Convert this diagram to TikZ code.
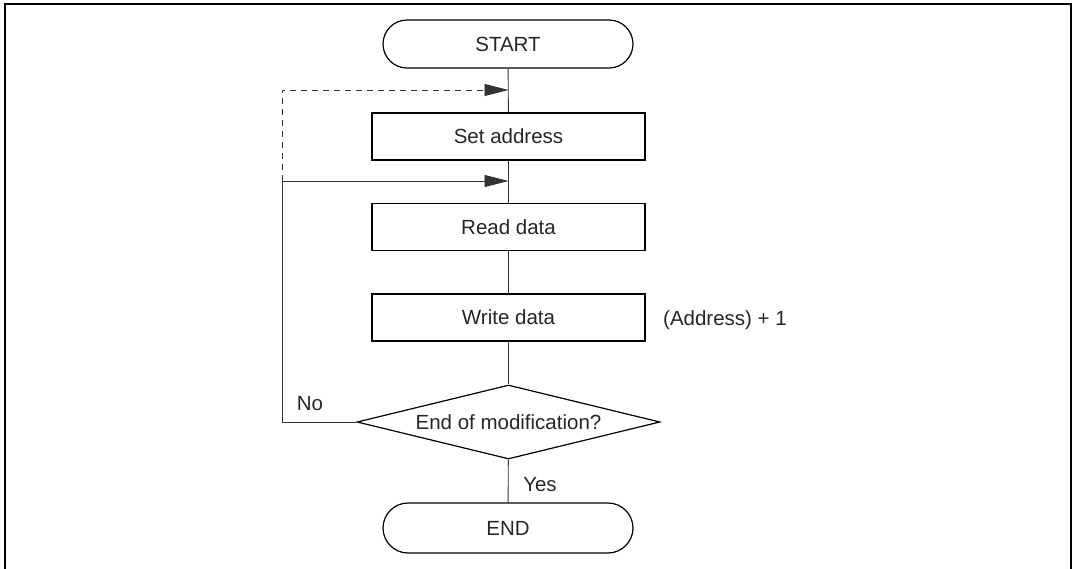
\documentclass[tikz,border=0pt]{standalone}
\usepackage{fontspec}
\setmainfont{Liberation Sans}
\usetikzlibrary{shapes.geometric,arrows.meta}
\tikzset{
  lbl/.style={font=\fontsize{20.5}{24}\selectfont, text=black!85, inner sep=0pt},
  term/.style={draw, line width=1.2pt, rounded corners=24pt, minimum width=250pt, minimum height=48pt, inner sep=0pt, lbl},
  proc/.style={draw, line width=1.2pt, minimum width=273pt, minimum height=47pt, inner sep=0pt, lbl},
  decis/.style={draw, line width=1.2pt, diamond, aspect=4.1, minimum width=303pt, minimum height=74pt, inner sep=0pt, lbl},
  conn/.style={draw, line width=0.9pt, black!80},
  arr/.style={conn, -{Triangle[length=24pt,width=12pt]}},
  frame/.style={line width=2.6pt, black}
}
\begin{document}
\begin{tikzpicture}[x=1pt,y=-1pt]
\useasboundingbox (0,0) rectangle (1074,568);
\draw[frame] (5,570) -- (5,4) -- (1071,4) -- (1071,570);

\node[term] (start) at (508,44) {START};
\node[proc] (set) at (508.5,136.5) {Set address};
\node[proc] (read) at (508.5,227) {Read data};
\node[proc] (write) at (508.5,317.5) {Write data};
\node[decis] (dec) at (508.5,422) {End of modification?};
\node[term, minimum height=50pt, rounded corners=25pt] (end) at (508,528) {END};

\node[lbl] (addr) at (725,320) {(Address) + 1};
\node[lbl] (no) at (310,404) {No};
\node[lbl] (yes) at (540,484.5) {Yes};

\coordinate (j0) at (508.5,90);
\coordinate (j1) at (508.5,181);
\coordinate (c0) at (282,90);
\coordinate (c1) at (282,181);

\path[conn] (start) -- (set);
\path[conn] (set) -- (read);
\path[conn] (read) -- (write);
\path[conn] (write) -- (dec);
\path[conn] (dec) -- (end);

\path[arr] (dec.west) -- (dec.west -| c1) -- (c1) -- (j1);
\path[arr, dashed, dash pattern=on 6pt off 5pt] (c1) -- (c0) -- (j0);
\end{tikzpicture}
\end{document}
